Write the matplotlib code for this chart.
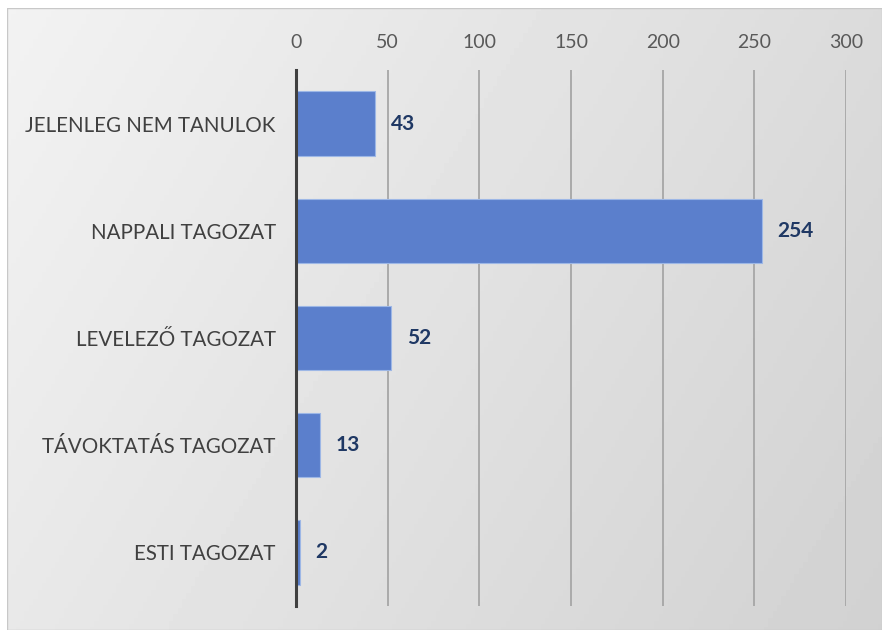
import numpy as np
import matplotlib
matplotlib.use('Agg')
import matplotlib.pyplot as plt
from matplotlib.transforms import offset_copy

categories = ['JELENLEG NEM TANULOK', 'NAPPALI TAGOZAT', 'LEVELEZŐ TAGOZAT',
              'TÁVOKTATÁS TAGOZAT', 'ESTI TAGOZAT']
values = [43, 254, 52, 13, 2]
x_ticks = [0, 50, 100, 150, 200, 250, 300]

plt.rcParams['font.family'] = ['Lato', 'DejaVu Sans']

W, H = 882, 630
fig = plt.figure(figsize=(W / 100, H / 100), dpi=100)

# gray gradient panel behind the chart
bg = fig.add_axes([7 / W, 0, 1 - 7 / W, 1 - 8 / H])
gx, gy = np.meshgrid(np.linspace(0, 1, 200), np.linspace(0, 1, 200))
shade = 0.95 - 0.13 * (0.7 * gx + 0.3 * gy)
bg.imshow(shade, cmap='gray', vmin=0, vmax=1, aspect='auto',
          extent=[0, 1, 0, 1], origin='upper')
bg.axis('off')
bg.add_patch(plt.Rectangle((0, 0), 1, 1, fill=False, ec='#c8c8c8', lw=1,
                           transform=bg.transAxes))

ax = fig.add_axes([296 / W, 1 - 606 / H, (846 - 296) / W, (606 - 70) / H])
ax.patch.set_alpha(0)

y = np.arange(len(categories))
ax.barh(y, values, height=0.6, color='#5b7fcc', edgecolor='#9db7e6', lw=0.8,
        zorder=3)

for yi, v in zip(y, values):
    ax.text(v, yi, str(v), transform=offset_copy(ax.transData, fig=fig, x=16, y=0, units='dots'),
            ha='left', va='center', fontsize=15, fontweight='bold',
            color='#1f3864', zorder=4)

ax.set_xlim(0, 300)
ax.set_ylim(len(categories) - 0.5, -0.5)
ax.set_xticks(x_ticks)
ax.xaxis.tick_top()
ax.tick_params(axis='x', length=0, pad=14, labelsize=14, labelcolor='#595959')
ax.set_yticks(y)
ax.set_yticklabels(categories)
ax.tick_params(axis='y', length=0, pad=14.5, labelsize=14.8, labelcolor='#404040')
ax.grid(axis='x', color='#a6a6a6', lw=1.3, zorder=1)
for s in ['top', 'right', 'bottom']:
    ax.spines[s].set_visible(False)
ax.spines['left'].set_color('#404040')
ax.spines['left'].set_linewidth(2.2)
ax.spines['left'].set_zorder(5)

fig.savefig('out.png', dpi=100)
